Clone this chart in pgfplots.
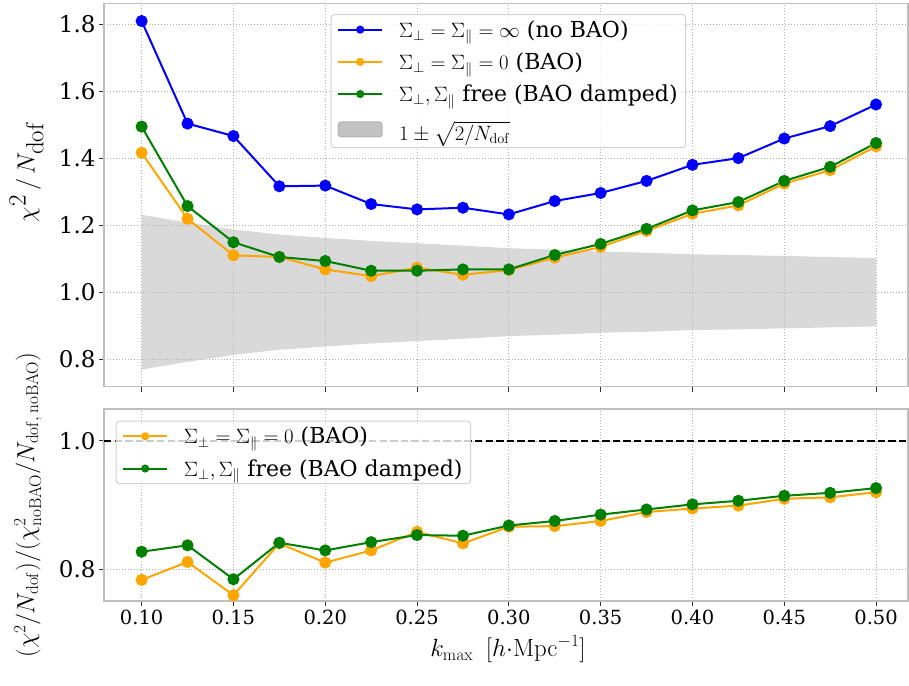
\documentclass[border=0pt]{standalone}
\usepackage{exscale}
\usepackage[no-math]{fontspec}
\setmainfont{DejaVu Serif}
\usepackage{pgfplots}
\pgfplotsset{compat=1.18}
\definecolor{mblue}{RGB}{0,0,255}
\definecolor{morange}{RGB}{255,165,0}
\definecolor{mgreen}{RGB}{0,128,0}
\definecolor{band}{RGB}{217,217,217}
\definecolor{bandleg}{RGB}{179,179,179}
\definecolor{spine}{RGB}{190,190,190}
\definecolor{gridc}{RGB}{176,176,176}

\pgfplotstableread{
k     blue    orange  green
0.100 1.809   1.416   1.494
0.125 1.503   1.219   1.257
0.150 1.466   1.110   1.149
0.175 1.316   1.105   1.105
0.200 1.318   1.068   1.093
0.225 1.263   1.048   1.064
0.250 1.247   1.073   1.064
0.275 1.252   1.052   1.068
0.300 1.232   1.066   1.068
0.325 1.272   1.103   1.111
0.350 1.296   1.135   1.144
0.375 1.332   1.183   1.189
0.400 1.380   1.234   1.244
0.425 1.400   1.259   1.269
0.450 1.4585  1.324   1.332
0.475 1.4955  1.364   1.374
0.500 1.560   1.435   1.445
}\toptable

\pgfplotstableread{
k     orange  green
0.100 0.783   0.827
0.125 0.811   0.837
0.150 0.759   0.784
0.175 0.840   0.841
0.200 0.810   0.829
0.225 0.829   0.842
0.250 0.858   0.853
0.275 0.840   0.852
0.300 0.866   0.868
0.325 0.867   0.875
0.350 0.875   0.885
0.375 0.889   0.893
0.400 0.8945  0.901
0.425 0.899   0.9066
0.450 0.9097  0.9144
0.475 0.912   0.919
0.500 0.920   0.9264
}\bottable

\pgfplotsset{
  myaxis/.style={
    scale only axis, width=804pt,
    xmin=0.0795, xmax=0.5174,
    xtick={0.10,0.15,0.20,0.25,0.30,0.35,0.40,0.45,0.50},
    grid=major,
    major grid style={gridc, line width=0.8pt, dash pattern=on 1pt off 2pt},
    axis line style={spine, line width=1.2pt},
    tick style={black!80, line width=1pt},
    major tick length=5pt, tick align=outside,
    xtick pos=bottom, ytick pos=left,
    /pgf/number format/assume math mode=true,
    yticklabel style={font=\fontsize{23}{23}\selectfont, /pgf/number format/.cd, fixed, fixed zerofill, precision=1},
    xticklabel style={font=\fontsize{19.5}{19.5}\selectfont, /pgf/number format/.cd, fixed, fixed zerofill, precision=2},
    set layers,
    legend image code/.code={\draw[mark repeat=2,mark phase=2,##1,mark size=3pt] plot coordinates {(0pt,0pt)(22pt,0pt)(44pt,0pt)};},
    legend style={font=\fontsize{22}{24}\selectfont, draw=gray!35, line width=1pt, rounded corners=3pt,
      fill=white, fill opacity=0.8, text opacity=1, inner xsep=6pt, inner ysep=4pt, row sep=10pt,
      cells={anchor=west},
      /tikz/every odd column/.append style={column sep=14pt}},
  },
  myline/.style={line width=2pt, mark=*, mark size=5pt},
}

\begin{document}
\begin{tikzpicture}
\begin{axis}[myaxis,
  at={(104pt,298.3pt)}, anchor=south west, height=383.4pt,
  ymin=0.718, ymax=1.862,
  ytick={0.8,1.0,1.2,1.4,1.6,1.8},
  xticklabels={},
  ylabel={$\chi^2\,/\,N_{\textstyle\rm dof}$},
  ylabel style={font=\fontsize{35}{35}\selectfont, at={(axis description cs:-0.0709,0.56)}, anchor=south},
  legend style={at={(0.503,0.972)}, anchor=north},
]
\addplot[on layer=axis background, fill=band, draw=none, forget plot] coordinates {
(0.100,1.231)(0.125,1.208)(0.150,1.187)(0.175,1.172)(0.200,1.162)(0.225,1.153)(0.250,1.146)(0.275,1.139)(0.300,1.131)(0.325,1.127)(0.350,1.121)(0.375,1.118)(0.400,1.113)(0.425,1.111)(0.450,1.108)(0.475,1.105)(0.500,1.102)
(0.500,0.898)(0.475,0.895)(0.450,0.892)(0.425,0.889)(0.400,0.887)(0.375,0.882)(0.350,0.879)(0.325,0.873)(0.300,0.869)(0.275,0.861)(0.250,0.854)(0.225,0.847)(0.200,0.838)(0.175,0.828)(0.150,0.813)(0.125,0.792)(0.100,0.769)
} -- cycle;
\addplot[myline, mblue] table[x=k,y=blue] {\toptable};
\addlegendentry{$\Sigma_\perp=\Sigma_\parallel=\infty$ (no BAO)}
\addplot[myline, morange] table[x=k,y=orange] {\toptable};
\addlegendentry{$\Sigma_\perp=\Sigma_\parallel=0$ (BAO)}
\addplot[myline, mgreen] table[x=k,y=green] {\toptable};
\addlegendentry{$\Sigma_\perp,\Sigma_\parallel$ free (BAO damped)}
\addlegendimage{legend image code/.code={\fill[bandleg] (0pt,-7.5pt) rectangle (44pt,7.5pt);}}
\addlegendentry{$\rule[-7pt]{0pt}{30pt}1\pm\sqrt{\rule[-4pt]{0pt}{19pt}2/N_{\rm dof}}$}
\end{axis}

\begin{axis}[myaxis,
  at={(104pt,84pt)}, anchor=south west, height=192pt,
  ymin=0.75, ymax=1.05,
  ytick={0.8,1.0},
  xlabel={$k_{\rm max}\ \,[h{\cdot}{\rm Mpc}^{-1}]$},
  xlabel style={font=\fontsize{27}{27}\selectfont, at={(axis description cs:0.5025,-0.29)}, anchor=base},
  ylabel={$(\chi^2/N_{\rm dof})/(\chi^2_{\rm noBAO}/N_{\rm dof,\,noBAO})$},
  ylabel style={font=\fontsize{26}{26}\selectfont, at={(axis description cs:-0.0734,0.5)}, anchor=south},
  legend style={at={(0.01455,0.939)}, anchor=north west},
]
\addplot[black, line width=2pt, dash pattern=on 7.4pt off 3.2pt, forget plot] coordinates {(0.0795,1.0)(0.5174,1.0)};
\addplot[myline, morange] table[x=k,y=orange] {\bottable};
\addlegendentry{$\Sigma_\perp=\Sigma_\parallel=0$ (BAO)}
\addplot[myline, mgreen] table[x=k,y=green] {\bottable};
\addlegendentry{$\Sigma_\perp,\Sigma_\parallel$ free (BAO damped)}
\end{axis}
\pgfresetboundingbox
\path (0pt,0pt) rectangle (909pt,685pt);
\end{tikzpicture}
\end{document}
